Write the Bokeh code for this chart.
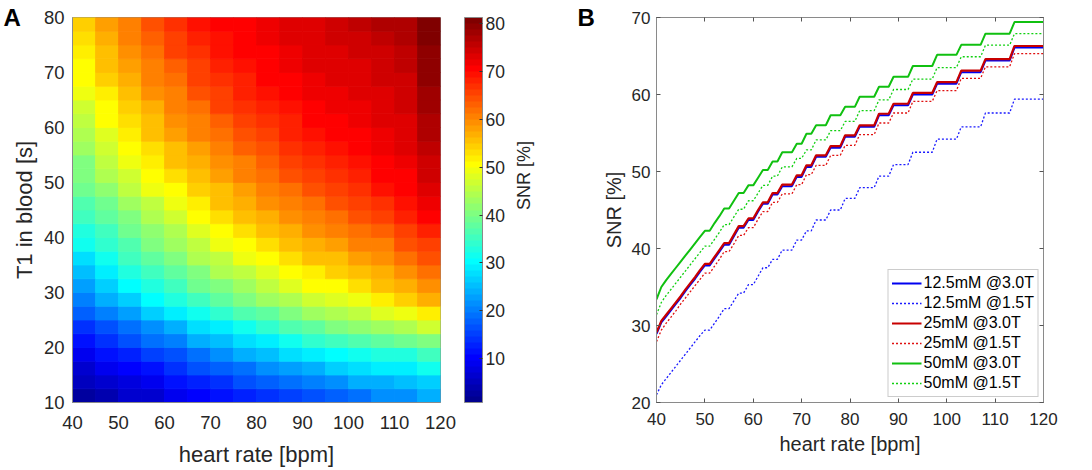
import math
import numpy as np
from bokeh.plotting import figure
from bokeh.models import (ColumnDataSource, LinearColorMapper, ColorBar, Range1d,
                          FixedTicker, Legend, LegendItem, LinearAxis)
from bokeh.layouts import row
from bokeh.embed import file_html
from bokeh.resources import INLINE

FONT = "Liberation Sans"
TXT = "#262626"
FRAME = "#8a8a8a"

# ---------------- Panel A data ----------------
hr_cells = [42.5, 47.5, 52.5, 57.5, 62.5, 67.5, 72.5, 77.5,
            82.5, 87.5, 92.5, 97.5, 102.5, 107.5, 112.5, 117.5]
t1_cells = [11.25, 13.75, 16.25, 18.75, 21.25, 23.75, 26.25, 28.75, 31.25, 33.75,
            36.25, 38.75, 41.25, 43.75, 46.25, 48.75, 51.25, 53.75, 56.25, 58.75,
            61.25, 63.75, 66.25, 68.75, 71.25, 73.75, 76.25, 78.75]
# SNR [%], one row per T1 cell (bottom to top), one column per heart-rate cell
snr_grid = [
    [3, 4.5, 6, 7, 8.5, 10, 11, 12.5, 14, 15, 16, 18, 19.5, 21, 22, 24.5],
    [5, 6.5, 8, 9.5, 11, 13, 14.5, 16, 17.5, 19, 20.5, 22, 23.5, 24.5, 25.5, 27],
    [7, 8.5, 10.5, 12, 14, 16, 18, 19.5, 21, 23, 24.5, 26, 27.5, 28.5, 29, 31],
    [9.5, 11, 13, 15, 17, 19.5, 21.5, 23.5, 25, 27.5, 29, 30.5, 32, 33, 33.5, 35],
    [12, 14, 16, 18.5, 20.5, 23.5, 25.5, 27.5, 29.5, 32, 34, 35.5, 37, 38, 39, 41],
    [14.5, 17, 19.5, 22, 24.5, 27.5, 29.5, 32, 34, 36.5, 38.5, 40, 41.5, 43, 44.5, 46.5],
    [17.5, 20.5, 23, 26, 28.5, 31.5, 34, 36.5, 38.5, 40.5, 42.5, 44, 45.5, 47.5, 49.5, 51.5],
    [20.5, 24, 27, 30, 32.5, 35.5, 38, 40.5, 42.5, 44.5, 46.5, 48, 49, 51.5, 54, 56.5],
    [23, 26.5, 30, 33, 35.5, 39, 41, 43, 46, 48, 50, 51, 53, 55, 57, 59.5],
    [25.5, 29, 32.5, 35.5, 38, 41, 44, 46, 48, 50, 52, 54, 56, 57, 59.5, 61.5],
    [28, 31.5, 35, 38, 40.5, 44, 46, 49, 51, 53, 55, 56, 58, 59, 62, 64],
    [31, 34, 37, 40, 42.5, 46, 49, 51, 53, 55, 57, 58, 60, 61, 64, 66],
    [33, 36, 39, 42, 44.5, 48, 51, 53, 55, 57, 59, 60, 62, 63, 66, 68],
    [35, 38, 41, 44, 47, 50, 53, 55, 57, 59, 60, 62, 64, 65, 68, 70.5],
    [36.5, 39.5, 43, 46, 49, 52, 55, 57, 59, 60, 62, 64, 66, 67, 69, 72],
    [39, 42, 45, 49, 51, 54, 56, 58, 60, 62, 64, 66, 67, 69, 70, 73.5],
    [40, 44, 47, 50, 53, 56, 58, 60, 62, 64, 66, 67, 68.5, 70, 71, 74.3],
    [41, 45, 49, 52, 55, 57, 59, 61, 63, 65, 67, 68.5, 69.5, 71, 72, 75],
    [43, 47, 50, 53, 56, 58, 61, 63, 64.5, 66.5, 68.5, 69.5, 70.5, 71.5, 72.5, 75.8],
    [44, 48, 52, 55, 58, 60, 62, 64, 66, 67.5, 69.5, 70.5, 71, 72, 73, 76.5],
    [46, 50, 53, 56, 59, 61, 63, 65.5, 67, 68.5, 70.5, 71, 71.5, 72.5, 73.5, 77],
    [47, 51, 54, 57, 60, 62, 65, 66.5, 68, 69.5, 71, 71.5, 72, 73, 74, 77.7],
    [49, 52, 56, 59, 61, 64, 66, 67.5, 69, 70.5, 71.5, 72, 72.5, 73.5, 74.5, 78.2],
    [50, 54, 57, 60, 62, 65, 67, 68.5, 70, 71, 72, 72.5, 73, 74, 75, 78.8],
    [51, 55, 58, 61, 63, 66, 68, 69.5, 70.5, 71.5, 72.5, 73, 73.5, 74.5, 75.5, 79.3],
    [52, 56, 59, 62, 65, 67, 69, 70, 71, 72, 73, 73.5, 74, 75, 76, 79.8],
    [53, 57, 60, 63, 66, 68, 69.5, 70.5, 71.5, 72.5, 73.5, 74, 75, 76, 77, 80.3],
    [54, 58, 61, 64, 66.5, 69, 70, 71, 72, 72.5, 73.5, 74.5, 75.5, 76.5, 77.5, 80.8],
]
snr_color_low, snr_color_high = 0.8, 81.3   # colour-bar limits
hr_ticks = [40, 50, 60, 70, 80, 90, 100, 110, 120]
t1_ticks = [10, 20, 30, 40, 50, 60, 70, 80]
cbar_ticks = [10, 20, 30, 40, 50, 60, 70, 80]

# ---------------- Panel B data ----------------
# heart-rate plateaus [start, end] on which every curve is constant
plateau_start = [40, 41, 42, 43, 44, 45, 46, 47, 48, 49, 50, 52, 53, 54, 56, 57, 59,
                 61, 62, 64, 66, 69, 71, 73, 76, 79, 82, 86, 89, 93, 98, 103, 108, 114]
plateau_end = [40, 41, 42, 43, 44, 45, 46, 47, 48, 49, 51, 52, 53, 55, 56, 58, 60,
               61, 63, 65, 68, 70, 72, 75, 78, 81, 85, 88, 92, 97, 102, 107, 113, 120]
snr_12_5mM_3T = [28.9, 30.4, 31.2, 32.0, 32.8, 33.6, 34.5, 35.3, 36.1, 37.0, 37.8, 38.7,
                 39.6, 40.5, 41.6, 42.7, 43.7, 44.8, 45.8, 47.0, 48.1, 49.3, 50.6, 51.9,
                 53.1, 54.5, 55.8, 57.3, 58.6, 60.0, 61.4, 62.9, 64.4, 66.1]
snr_12_5mM_15T = [21.0, 22.3, 23.1, 23.9, 24.7, 25.5, 26.3, 27.1, 27.9, 28.7, 29.4, 30.3,
                  31.2, 32.2, 33.2, 34.2, 35.3, 36.4, 37.5, 38.6, 39.8, 41.1, 42.3, 43.7,
                  45.0, 46.5, 47.9, 49.4, 50.9, 52.5, 54.2, 55.8, 57.6, 59.4]
snr_25mM_3T = [29.1, 30.6, 31.4, 32.2, 33.0, 33.8, 34.7, 35.5, 36.3, 37.2, 38.0, 38.9,
               39.8, 40.7, 41.8, 42.9, 43.9, 45.0, 46.0, 47.2, 48.3, 49.5, 50.8, 52.1,
               53.3, 54.7, 56.0, 57.5, 58.8, 60.2, 61.6, 63.1, 64.6, 66.3]
snr_25mM_15T = [27.9, 29.4, 30.3, 31.1, 31.9, 32.8, 33.6, 34.4, 35.2, 36.0, 36.8, 37.7,
                38.6, 39.6, 40.6, 41.7, 42.7, 43.8, 44.8, 46.0, 47.1, 48.3, 49.6, 50.8,
                52.1, 53.4, 54.8, 56.3, 57.6, 59.1, 60.5, 62.1, 63.6, 65.3]
snr_50mM_3T = [33.4, 35.0, 35.9, 36.7, 37.5, 38.3, 39.1, 39.9, 40.7, 41.5, 42.3, 43.3,
               44.2, 45.2, 46.2, 47.2, 48.2, 49.2, 50.2, 51.3, 52.5, 53.6, 54.9, 56.0,
               57.3, 58.4, 59.7, 61.0, 62.3, 63.7, 65.15, 66.45, 67.9, 69.4]
snr_50mM_15T = [31.4, 33.0, 33.9, 34.7, 35.5, 36.3, 37.1, 37.9, 38.7, 39.5, 40.3, 41.2,
                42.1, 43.1, 44.1, 45.1, 46.2, 47.2, 48.2, 49.4, 50.6, 51.7, 52.8, 54.1,
                55.3, 56.5, 57.9, 59.3, 60.65, 62.0, 63.5, 64.9, 66.4, 67.9]
series_labels = ["12.5mM @3.0T", "12.5mM @1.5T", "25mM @3.0T",
                 "25mM @1.5T", "50mM @3.0T", "50mM @1.5T"]
snr_ticks = [20, 30, 40, 50, 60, 70]


def jet(m=64):
    """MATLAB jet colour map."""
    n = int(math.ceil(m / 4))
    u = np.concatenate([np.arange(1, n + 1) / n, np.ones(n - 1), np.arange(n, 0, -1) / n])
    g = int(math.ceil(n / 2)) - (1 if m % 4 == 1 else 0) + np.arange(1, len(u) + 1)
    r = g + n
    b = g - n
    J = np.zeros((m, 3))
    gi = g[g <= m]
    J[gi - 1, 1] = u[:len(gi)]
    ri = r[r <= m]
    J[ri - 1, 0] = u[:len(ri)]
    bi = b[b >= 1]
    J[bi - 1, 2] = u[len(u) - len(bi):]
    return ["#%02x%02x%02x" % tuple(int(round(c * 255)) for c in rc) for rc in J]


def style_axis(ax, tick_size, label_size, tick_len, standoff, label_standoff):
    ax.major_label_text_font = FONT
    ax.major_label_text_font_size = tick_size
    ax.major_label_text_color = TXT
    ax.axis_label_text_font = FONT
    ax.axis_label_text_font_size = label_size
    ax.axis_label_text_color = TXT
    ax.axis_label_text_font_style = "normal"
    ax.minor_tick_line_color = None
    ax.major_tick_in = tick_len
    ax.major_tick_out = 0
    ax.major_tick_line_color = "#555555"
    ax.axis_line_color = FRAME
    ax.major_label_standoff = standoff
    ax.axis_label_standoff = label_standoff


def panel_letter(p, letter, offset, standoff):
    p.title.text = letter
    p.title.text_font = FONT
    p.title.text_font_size = "24px"
    p.title.text_font_style = "bold"
    p.title.text_color = "black"
    p.title.align = "left"
    p.title.offset = offset
    try:
        p.title.standoff = standoff
    except Exception:
        p.title.standoff = 0


# ---------------- Panel A ----------------
xs, ys, vals = [], [], []
for j, t1 in enumerate(t1_cells):
    for i, hr in enumerate(hr_cells):
        xs.append(hr)
        ys.append(t1)
        vals.append(snr_grid[j][i])
src_a = ColumnDataSource(dict(x=xs, y=ys, snr=vals))
mapper = LinearColorMapper(palette=jet(64), low=snr_color_low, high=snr_color_high)
cell_w = hr_cells[1] - hr_cells[0]
cell_h = t1_cells[1] - t1_cells[0]

p_a = figure(frame_width=368, frame_height=385, x_range=Range1d(40, 120),
             y_range=Range1d(10, 80), output_backend="svg", toolbar_location=None,
             min_border_left=72, min_border_right=125, min_border_top=17,
             min_border_bottom=64, outline_line_color=FRAME)
p_a.grid.visible = False
p_a.rect(x="x", y="y", width=cell_w, height=cell_h, source=src_a,
         fill_color={"field": "snr", "transform": mapper},
         line_color={"field": "snr", "transform": mapper}, line_width=0.8)
p_a.xaxis.ticker = FixedTicker(ticks=hr_ticks)
p_a.yaxis.ticker = FixedTicker(ticks=t1_ticks)
p_a.xaxis.axis_label = "heart rate [bpm]"
p_a.yaxis.axis_label = "T1 in blood [s]"
style_axis(p_a.xaxis[0], "18.5px", "22px", 0, 13, 10)
style_axis(p_a.yaxis[0], "18.5px", "22px", 0, 8, 4)

cb = ColorBar(color_mapper=mapper, ticker=FixedTicker(ticks=cbar_ticks), width=18,
              height=385, padding=0, margin=0, location=(24, 0),
              major_tick_in=3, major_tick_out=0, major_tick_line_color="#333333",
              minor_tick_line_color=None, bar_line_color=FRAME, label_standoff=3,
              major_label_text_font=FONT, major_label_text_font_size="17.5px",
              major_label_text_color=TXT, background_fill_alpha=0,
              border_line_color=None)
p_a.add_layout(cb, "right")
# label of the colour bar, kept centred on the bar
cb_label_axis = LinearAxis(ticker=FixedTicker(ticks=[]), axis_label="SNR [%]",
                           bounds=(10, 67.4))
style_axis(cb_label_axis, "1px", "18px", 0, 0, 16)
cb_label_axis.axis_line_color = None
cb_label_axis.major_label_text_color = None
cb_label_axis.major_tick_line_color = None
if hasattr(cb_label_axis, "axis_label_orientation"):
    cb_label_axis.axis_label_orientation = math.pi / 2
p_a.add_layout(cb_label_axis, "right")
panel_letter(p_a, "A", -69, -26)

# ---------------- Panel B ----------------
p_b = figure(frame_width=387, frame_height=385, x_range=Range1d(40, 120),
             y_range=Range1d(20, 70), output_backend="svg", toolbar_location=None,
             min_border_left=91, min_border_right=25, min_border_top=17,
             min_border_bottom=64, outline_line_color=FRAME)
p_b.grid.visible = False
p_b.xaxis.ticker = FixedTicker(ticks=hr_ticks)
p_b.yaxis.ticker = FixedTicker(ticks=snr_ticks)
p_b.xaxis.axis_label = "heart rate [bpm]"
p_b.yaxis.axis_label = "SNR [%]"
style_axis(p_b.xaxis[0], "17px", "20px", 4, 10, 5)
style_axis(p_b.yaxis[0], "17px", "20px", 4, 6, 4)
for side, tk in (("above", hr_ticks), ("right", snr_ticks)):
    ax = LinearAxis(ticker=FixedTicker(ticks=tk))
    style_axis(ax, "1px", "1px", 4, 0, 0)
    ax.major_label_text_color = None
    p_b.add_layout(ax, side)


def staircase(levels):
    sx, sy = [], []
    for s, e, v in zip(plateau_start, plateau_end, levels):
        sx.append(s)
        sy.append(v)
        if e != s:
            sx.append(e)
            sy.append(v)
    return sx, sy


curves = [snr_12_5mM_3T, snr_12_5mM_15T, snr_25mM_3T, snr_25mM_15T, snr_50mM_3T, snr_50mM_15T]
styles = [("#0000f0", "solid", 2.0), ("#1a1aff", "2 2", 1.3),
          ("#c80000", "solid", 2.2), ("#e01010", "2 2", 1.3),
          ("#10c010", "solid", 2.0), ("#10d010", "2 2", 1.3)]
items = []
for lab, lv, (col, dash, w) in zip(series_labels, curves, styles):
    cx, cy = staircase(lv)
    r = p_b.line(cx, cy, line_color=col, line_dash=dash, line_width=w)
    items.append(LegendItem(label=lab, renderers=[r]))

legend = Legend(items=items, location="bottom_right", margin=5, padding=3, spacing=0,
                label_height=20, glyph_height=20, glyph_width=30, label_standoff=2,
                label_text_font=FONT, label_text_font_size="16px", label_text_color="black",
                border_line_color="#9a9a9a", background_fill_color="white",
                background_fill_alpha=1)
p_b.add_layout(legend)
panel_letter(p_b, "B", -79, -26)

layout = row(p_a, p_b)
open("out.html", "w").write(file_html(layout, INLINE))
